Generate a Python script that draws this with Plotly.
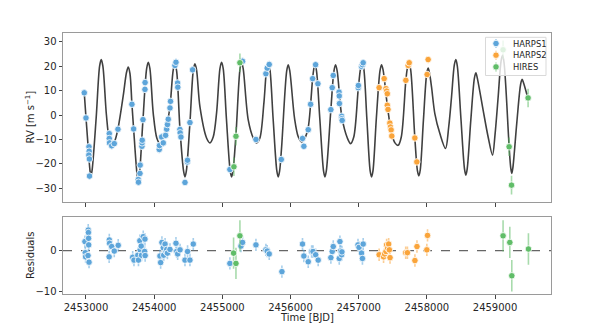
import plotly.graph_objects as go

# ---------------- data ----------------
# model curve
model_t = [2452975, 2453000, 2453040, 2453060, 2453073, 2453088, 2453150, 2453200, 2453224, 2453248,
           2453300, 2453342, 2453385, 2453430, 2453474, 2453547, 2453595, 2453620, 2453645, 2453674,
           2453699, 2453750, 2453767, 2453784, 2453836, 2453890, 2453914, 2453938, 2453987, 2454040,
           2454085, 2454130, 2454183, 2454232, 2454280, 2454305, 2454330, 2454378, 2454432, 2454452,
           2454472, 2454525, 2454575, 2454598, 2454622, 2454672, 2454770, 2454818, 2454866, 2454916,
           2454965, 2454989, 2455013, 2455060, 2455116, 2455136, 2455156, 2455200, 2455260, 2455283,
           2455306, 2455380, 2455455, 2455503, 2455550, 2455610, 2455650, 2455673, 2455697, 2455745,
           2455800, 2455820, 2455840, 2455870, 2455944, 2455967, 2455990, 2456060, 2456115, 2456163,
           2456210, 2456260, 2456295, 2456330, 2456358, 2456382, 2456430, 2456485, 2456505, 2456525,
           2456592, 2456637, 2456661, 2456685, 2456754, 2456835, 2456881, 2456928, 2456993, 2457027,
           2457051, 2457075, 2457120, 2457169, 2457189, 2457209, 2457260, 2457312, 2457335, 2457358,
           2457420, 2457486, 2457535, 2457579, 2457625, 2457692, 2457717, 2457740, 2457763, 2457824,
           2457863, 2457883, 2457903, 2457950, 2457998, 2458019, 2458040, 2458069, 2458117, 2458191,
           2458274, 2458320, 2458362, 2458403, 2458425, 2458447, 2458500, 2458552, 2458572, 2458592,
           2458645, 2458697, 2458719, 2458741, 2458826, 2458899, 2458963, 2459000, 2459046, 2459088,
           2459110, 2459132, 2459207, 2459230, 2459246, 2459262, 2459320, 2459375, 2459397, 2459420,
           2459471]
model_rv = [9.0, -1.0, -16.0, -23.0, -24.8, -23.0, -1.0, 20.0, 22.7, 20.0,
            0.0, -9.8, -12.3, -10.0, -4.9, 8.0, 17.5, 19.6, 17.0, 4.4,
            -5.7, -24.5, -27.0, -24.5, -1.9, 19.0, 21.6, 19.0, 0.6, -9.5,
            -11.7, -9.5, -4.5, 3.5, 18.5, 21.0, 18.0, -5.5, -23.0, -25.3,
            -23.0, -3.1, 18.5, 21.0, 18.5, 3.3, -9.5, -11.4, -9.0, 1.0,
            19.0, 21.6, 19.0, -1.5, -23.0, -25.3, -23.0, -8.0, 19.0, 21.6,
            19.0, -2.0, -9.5, -11.4, -9.5, 5.0, 19.0, 21.6, 19.0, -1.5,
            -23.0, -25.3, -23.0, -13.0, 18.0, 20.6, 18.0, -1.5, -9.0, -11.0,
            -9.5, -5.0, 4.4, 16.5, 21.0, 18.0, -1.5, -23.0, -25.3, -23.0,
            2.2, 18.0, 20.6, 18.0, -1.0, -9.5, -11.7, -9.0, 10.5, 19.0,
            21.6, 19.0, -1.5, -23.0, -25.3, -23.0, -1.0, 18.0, 20.6, 18.5,
            4.0, -8.0, -11.5, -12.4, -9.0, 14.2, 19.5, 21.0, 18.5, -9.4,
            -23.0, -24.9, -22.5, -2.0, 17.0, 19.2, 17.0, 11.4, 0.6, -7.6,
            -13.7, -5.0, 7.4, 20.5, 22.7, 20.0, -1.5, -22.0, -24.6, -22.0,
            -2.0, 15.0, 17.3, 15.0, 1.9, -9.0, -16.4, -8.0, 7.4, 22.0,
            24.4, 21.5, -13.0, -21.5, -23.9, -21.5, -3.0, 12.5, 14.6, 13.0,
            8.0]

# HARPS1 RVs
h1_t = [2452975, 2453000, 2453044, 2453047, 2453042, 2453050, 2453052,
        2453342, 2453342, 2453345, 2453377, 2453415, 2453469,
        2453674, 2453699, 2453767, 2453770, 2453792, 2453795, 2453821, 2453823, 2453825,
        2453836, 2453865, 2453867,
        2454075, 2454078, 2454110, 2454134, 2454168, 2454183, 2454195, 2454207, 2454232,
        2454240, 2454305, 2454320, 2454344, 2454347, 2454378, 2454381, 2454393,
        2454452, 2454486, 2454489, 2454525, 2454564,
        2455111, 2455297, 2455493, 2455639, 2455658, 2455688, 2455865,
        2456176, 2456196, 2456260, 2456295, 2456325, 2456368, 2456402,
        2456592, 2456612, 2456627, 2456712, 2456715, 2456718, 2456750, 2456754, 2456758,
        2456993, 2456996, 2457042, 2457055, 2457066]
h1_rv = [9.1, -1.2, -13.0, -14.8, -16.4, -18.0, -25.0,
         -7.6, -9.6, -11.4, -12.6, -11.7, -5.8,
         4.4, -5.7, -26.4, -27.5, -23.9, -20.5, -12.8, -11.4, -10.3,
         -1.9, 10.5, 13.3,
         -14.1, -12.5, -9.0, -11.4, -8.3, -5.8, -3.9, -1.7, 2.9,
         5.6, 20.3, 21.6, 13.1, 11.4, -5.9, -7.3, -9.0,
         -27.6, -19.2, -18.5, -3.1, 18.5,
         -22.3, 22.0, -10.0, 16.9, 19.2, 20.7, -18.2,
         -9.6, -12.8, -6.0, 4.4, 14.9, 20.6, 12.8,
         2.2, 11.2, 16.2, 9.4, 7.8, 4.7, -0.5, -1.5, -2.2,
         11.2, 12.1, 19.9, 20.6, 21.4]

# HARPS2 RVs
h2_t = [2457300, 2457374, 2457400, 2457410, 2457420, 2457420, 2457430,
        2457457, 2457466, 2457476, 2457486, 2457692, 2457726, 2457741,
        2457824, 2457853, 2458004, 2458019]
h2_rv = [11.2, 14.9, 10.8, 9.8, 8.7, 4.0, 2.3,
         -3.3, -4.9, -6.1, -8.6, 14.2, 20.3, 21.4,
         -9.4, -19.2, 16.6, 22.7]

# HIRES RVs
hi_t = [2455170, 2455200, 2455258, 2459118, 2459207, 2459242, 2459485]
hi_rv = [-21.2, -8.7, 21.4, 26.7, -13.0, -28.7, 7.0]

# residuals
h1_rt = [2452985, 2452990, 2452995, 2453033, 2453036, 2453038, 2453040, 2453030, 2453045,
         2453342, 2453346, 2453340, 2453377, 2453415, 2453473,
         2453685, 2453704, 2453760, 2453770, 2453790, 2453795, 2453810, 2453840, 2453865,
         2453815, 2453860, 2453868,
         2454085, 2454095, 2454114, 2454134, 2454140, 2454160, 2454175, 2454185, 2454195,
         2454232, 2454320, 2454330, 2454345, 2454380, 2454452, 2454490, 2454525, 2454574,
         2455111, 2455273, 2455297, 2455493, 2455639, 2455658, 2455688, 2455874,
         2456176, 2456196, 2456260, 2456310, 2456330, 2456369, 2456406,
         2456592, 2456612, 2456627, 2456715, 2456725, 2456735, 2456750, 2456754,
         2456990, 2457005, 2457042, 2457055, 2457066]
h1_res = [2.2, -0.5, -1.5, 5.0, 4.4, 3.0, 1.4, -1.2, -2.8,
          2.6, 1.8, -1.5, 1.0, -0.1, 1.3,
          -1.6, -2.3, -1.1, -2.3, 2.4, 0.2, 1.1, 3.4, 2.8,
          -1.1, -0.2, -1.2,
          -1.3, -2.9, 2.0, 0.7, -1.1, 1.6, -0.2, 0.3, -0.6,
          0.3, 1.8, -0.2, -0.8, 0.2, -2.3, -0.2, -2.3, 1.6,
          -3.1, 1.1, 2.0, 1.4, 0.2, -0.1, -0.8, -5.1,
          1.6, -1.3, -2.7, -0.2, -0.2, -1.0, -2.3,
          -1.7, -0.2, 1.0, -1.9, 2.2, -0.1, -1.0, -0.3,
          1.4, 0.8, -0.6, -1.9, 1.6]
h2_rt = [2457300, 2457365, 2457380, 2457400, 2457410, 2457425, 2457440, 2457450, 2457460,
         2457690, 2457715, 2457825, 2457855, 2458000, 2458010]
h2_res = [-1.0, -1.5, -0.8, -0.2, 1.4, 0.6, 1.6, 0.2, -1.7,
          -0.5, -0.5, -2.4, 1.0, 0.2, 3.7]
hi_rt = [2455165, 2455200, 2455258, 2459118, 2459217, 2459246, 2459490]
hi_res = [-0.6, -3.1, 3.6, 3.6, 2.0, -6.1, 0.4]

h1_err = 1.5
h2_err = 1.5
hi_err = 3.8

legend_names = ["HARPS1", "HARPS2", "HIRES"]

# ---------------- styling ----------------
C_BLUE = "#5DA5DA"
C_ORANGE = "#FAA43A"
C_GREEN = "#60BD68"
E_BLUE = "rgba(93,165,218,0.55)"
E_ORANGE = "rgba(250,164,58,0.55)"
E_GREEN = "rgba(96,189,104,0.55)"
FONT = "DejaVu Sans"
TXT = "#262626"

W, H = 590, 316          # page body has an 8px margin
OFF = 8


def px_x(x):
    return (x - OFF) / W


def px_y(y):
    return 1 - (y - OFF) / H


fig = go.Figure()

fig.add_trace(go.Scatter(x=model_t, y=model_rv, mode="lines",
                         line=dict(color="#404040", width=1.6, shape="spline", smoothing=0.9),
                         showlegend=False, hoverinfo="skip", xaxis="x", yaxis="y"))


def pts(t, v, err, col, ecol, xa, ya):
    return go.Scatter(x=t, y=v, mode="markers", showlegend=False,
                      marker=dict(color=col, size=6.5, line=dict(color="white", width=0.8)),
                      error_y=dict(type="constant", value=err, color=ecol, thickness=1.6, width=0),
                      xaxis=xa, yaxis=ya)


fig.add_trace(pts(h1_t, h1_rv, h1_err, C_BLUE, E_BLUE, "x", "y"))
fig.add_trace(pts(h2_t, h2_rv, h2_err, C_ORANGE, E_ORANGE, "x", "y"))
fig.add_trace(pts(hi_t, hi_rv, hi_err, C_GREEN, E_GREEN, "x", "y"))
fig.add_trace(pts(h1_rt, h1_res, h1_err, C_BLUE, E_BLUE, "x2", "y2"))
fig.add_trace(pts(h2_rt, h2_res, h2_err, C_ORANGE, E_ORANGE, "x2", "y2"))
fig.add_trace(pts(hi_rt, hi_res, hi_err, C_GREEN, E_GREEN, "x2", "y2"))

# custom legend drawn on a pixel overlay axis (reference pixel coordinates)
LX0, LX1, LY0, LY1 = 485.5, 546, 37.3, 75.5
fig.add_trace(go.Scatter(x=[LX0, LX1, LX1, LX0, LX0], y=[LY0, LY0, LY1, LY1, LY0], mode="lines",
                         fill="toself", fillcolor="rgba(255,255,255,0.8)",
                         line=dict(color="#d9d9d9", width=1), showlegend=False, hoverinfo="skip",
                         xaxis="x3", yaxis="y3"))
leg_y = [43.5, 55.2, 66.9]
for yy, ec in zip(leg_y, [E_BLUE, E_ORANGE, E_GREEN]):
    fig.add_trace(go.Scatter(x=[496, 496], y=[yy - 4.5, yy + 4.5], mode="lines",
                             line=dict(color=ec, width=1.6), showlegend=False, hoverinfo="skip",
                             xaxis="x3", yaxis="y3"))
fig.add_trace(go.Scatter(x=[496, 496, 496], y=leg_y, mode="markers", showlegend=False, hoverinfo="skip",
                         marker=dict(color=[C_BLUE, C_ORANGE, C_GREEN], size=6.5,
                                     line=dict(color="white", width=0.8)),
                         xaxis="x3", yaxis="y3"))

XR = [2452663, 2459821]
axis_common = dict(showline=True, mirror=True, linecolor="#9a9a9a", linewidth=1, showgrid=False, zeroline=False,
                   ticks="outside", ticklen=3.5, tickcolor="#444444", tickwidth=1,
                   tickfont=dict(family=FONT, size=10, color=TXT))

annotations = [
    dict(text="Time [BJD]", x=px_x(307), y=px_y(317.5), xref="paper", yref="paper", showarrow=False,
         font=dict(family=FONT, size=10, color=TXT), xanchor="center", yanchor="middle"),
    dict(text="RV [m s<sup>\u22121</sup>]", x=px_x(29.5), y=px_y(117), xref="paper", yref="paper",
         showarrow=False, textangle=-90, font=dict(family=FONT, size=10, color=TXT),
         xanchor="center", yanchor="middle"),
    dict(text="Residuals", x=px_x(30), y=px_y(256), xref="paper", yref="paper", showarrow=False,
         textangle=-90, font=dict(family=FONT, size=10, color=TXT), xanchor="center", yanchor="middle"),
]
for name, yy in zip(legend_names, leg_y):
    annotations.append(dict(text=name, x=px_x(510.5), y=px_y(yy), xref="paper", yref="paper", showarrow=False,
                            font=dict(family=FONT, size=8.4, color=TXT), xanchor="left", yanchor="middle"))

fig.update_layout(
    width=W, height=H,
    margin=dict(l=0, r=0, t=0, b=0),
    paper_bgcolor="white", plot_bgcolor="rgba(0,0,0,0)",
    font=dict(family=FONT, size=10, color=TXT),
    showlegend=False,
    xaxis=dict(domain=[px_x(63), px_x(551)], range=XR, anchor="y", showticklabels=False,
               tickvals=[2453000, 2454000, 2455000, 2456000, 2457000, 2458000, 2459000], **axis_common),
    yaxis=dict(domain=[px_y(202), px_y(32.7)], range=[-35.6, 33.7], anchor="x",
               tickvals=[-30, -20, -10, 0, 10, 20, 30],
               ticktext=["\u221230", "\u221220", "\u221210", "0", "10", "20", "30"],
               automargin=False, **axis_common),
    xaxis2=dict(domain=[px_x(63), px_x(551)], range=XR, anchor="y2",
                tickvals=[2453000, 2454000, 2455000, 2456000, 2457000, 2458000, 2459000],
                ticktext=["2453000", "2454000", "2455000", "2456000", "2457000", "2458000", "2459000"],
                automargin=False, **axis_common),
    yaxis2=dict(domain=[px_y(294.3), px_y(217.3)], range=[-10.6, 8.1], anchor="x2",
                tickvals=[-10, 0], ticktext=["\u221210", "0"],
                automargin=False, **axis_common),
    xaxis3=dict(domain=[0, 1], range=[OFF, OFF + W], anchor="y3", visible=False, fixedrange=True),
    yaxis3=dict(domain=[0, 1], range=[OFF + H, OFF], anchor="x3", visible=False, fixedrange=True),
    annotations=annotations,
    shapes=[dict(type="line", xref="x2 domain", yref="y2", x0=0, x1=1, y0=0, y1=0,
                 line=dict(color="#666666", width=1.3, dash="dash"), layer="below")],
)

fig.write_html("out.html")
